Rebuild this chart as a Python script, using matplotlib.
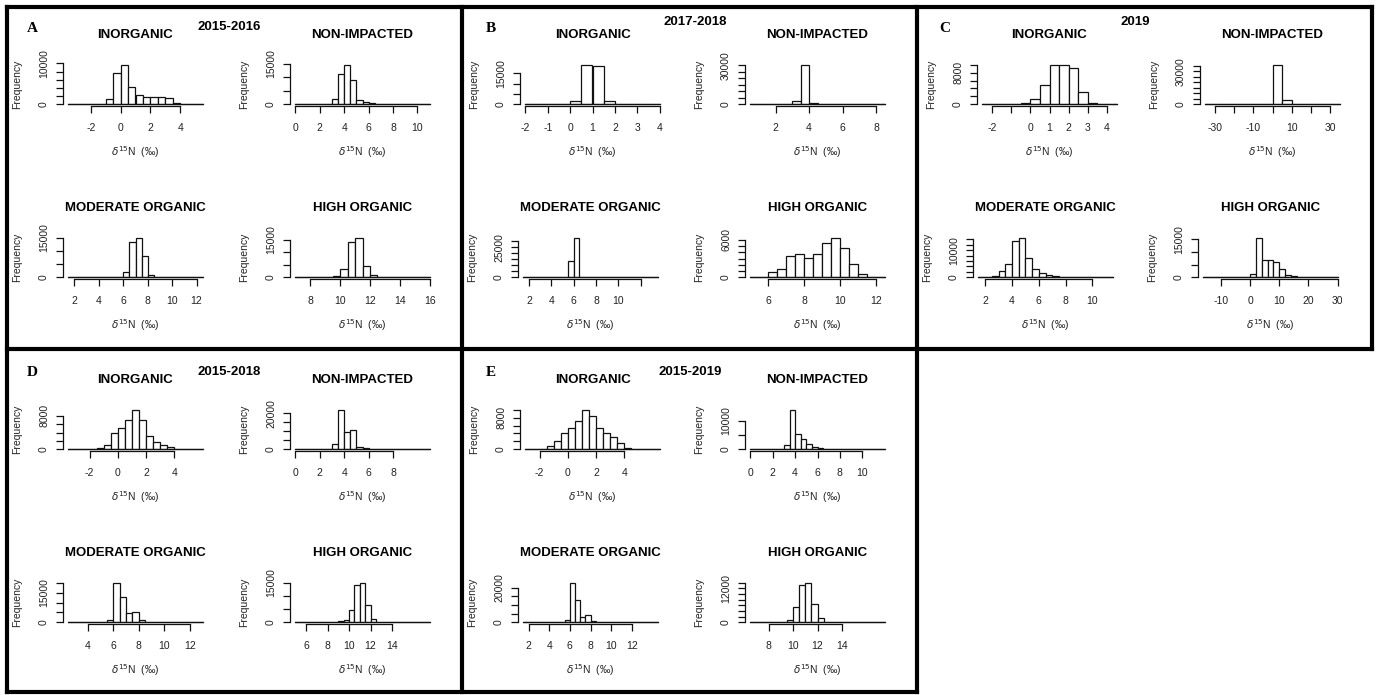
import matplotlib
matplotlib.use("Agg")
import matplotlib.pyplot as plt
from matplotlib.lines import Line2D
import numpy as np

W, H, DPI = 1378, 695, 100

# ------------------------------------------------------------------ data
TITLES = ["INORGANIC", "NON-IMPACTED", "MODERATE ORGANIC", "HIGH ORGANIC"]
PANEL_LETTERS = ["A", "B", "C", "D", "E"]
PANEL_YEARS = ["2015-2016", "2017-2018", "2019", "2015-2018", "2015-2019"]
XLABEL = r"$\delta^{15}$N  (‰)"
YLABEL = "Frequency"

# bins: (first break, bin width); counts: frequency per bin
A_INORGANIC_BINS = (-3.5, 0.5)
A_INORGANIC = [0, 20, 50, 100, 200, 1300, 7640, 9700, 4350, 2300, 1800, 1700, 1800, 1550, 300, 80, 30, 10]
A_NONIMPACTED_BINS = (0.0, 0.5)
A_NONIMPACTED = [0, 0, 10, 20, 30, 100, 2090, 11070, 14700, 8850, 1720, 740, 490, 250, 120, 60, 30, 20, 10, 5, 5, 5]
A_MODERATE_BINS = (1.5, 0.5)
A_MODERATE = [5, 5, 10, 10, 20, 30, 50, 100, 200, 1920, 13460, 15000, 7950, 1000, 250, 80, 30, 20, 10, 5, 5, 5]
A_HIGH_BINS = (7.0, 0.5)
A_HIGH = [5, 10, 30, 100, 250, 680, 3400, 14050, 15950, 4640, 820, 270, 100, 40, 20, 10, 5, 5]

B_INORGANIC_BINS = (-2.0, 0.5)
B_INORGANIC = [10, 20, 60, 300, 1630, 19070, 18260, 1470, 100, 30, 10, 5]
B_NONIMPACTED_BINS = (0.5, 0.5)
B_NONIMPACTED = [5, 5, 10, 20, 200, 2560, 30500, 1000, 400, 100, 50, 20, 10, 5, 5, 5]
B_MODERATE_BINS = (1.5, 0.5)
B_MODERATE = [5, 5, 10, 10, 20, 50, 100, 300, 13600, 33200, 400, 100, 50, 20, 10, 5, 5, 5, 5, 5, 5, 5, 5, 5]
B_HIGH_BINS = (5.0, 0.5)
B_HIGH = [30, 100, 930, 1360, 3440, 3820, 3160, 3820, 5450, 6380, 4750, 2070, 550, 100, 10]

C_INORGANIC_BINS = (-2.5, 0.5)
C_INORGANIC = [5, 10, 30, 100, 340, 1450, 4870, 10000, 9900, 9150, 3080, 250, 80, 20]
C_NONIMPACTED_BINS = (-35.0, 5.0)
C_NONIMPACTED = [5, 5, 10, 20, 50, 200, 600, 36000, 4200, 500, 100, 30, 10, 5]
C_MODERATE_BINS = (1.5, 0.5)
C_MODERATE = [100, 250, 600, 2500, 5000, 13400, 14600, 7100, 3100, 1600, 900, 500, 250, 150, 100, 60, 40, 20, 10, 10]
C_HIGH_BINS = (-16.0, 2.0)
C_HIGH = [5, 5, 5, 10, 20, 40, 80, 270, 1340, 15670, 6700, 6700, 6030, 3350, 940, 540, 270, 130, 60, 30, 20, 10, 5]

D_INORGANIC_BINS = (-3.5, 0.5)
D_INORGANIC = [0, 10, 30, 80, 300, 1000, 3800, 5200, 7000, 9500, 7000, 3300, 1800, 1100, 500, 150, 50, 10, 5]
D_NONIMPACTED_BINS = (0.0, 0.5)
D_NONIMPACTED = [0, 0, 5, 10, 20, 100, 3000, 22000, 9500, 10500, 1500, 800, 500, 300, 150, 80, 40, 20, 10, 5, 5, 5]
D_MODERATE_BINS = (2.5, 0.5)
D_MODERATE = [5, 5, 10, 10, 20, 50, 1000, 20000, 13000, 4500, 5000, 1000, 300, 100, 50, 20, 10, 5, 5, 5, 5]
D_HIGH_BINS = (5.0, 0.5)
D_HIGH = [5, 5, 10, 20, 30, 50, 100, 200, 400, 1000, 4500, 14000, 15000, 6500, 1200, 300, 100, 30, 10,
          5, 5, 5, 5, 5, 5]

E_INORGANIC_BINS = (-3.0, 0.5)
E_INORGANIC = [10, 50, 200, 800, 2000, 4200, 5500, 7200, 10000, 8500, 5500, 4000, 3000, 1500, 400, 100, 20, 10, 5]
E_NONIMPACTED_BINS = (0.0, 0.5)
E_NONIMPACTED = [0, 0, 5, 10, 30, 200, 1500, 14000, 5500, 3500, 2000, 1000, 500, 300, 150, 80, 40, 20, 10,
                 5, 5, 5, 5, 5]
E_MODERATE_BINS = (1.5, 0.5)
E_MODERATE = [5, 5, 10, 20, 50, 100, 200, 300, 1200, 23000, 13000, 3000, 4000, 1000, 300, 100, 50, 20, 10,
              5, 5, 5, 5, 5, 5, 5]
E_HIGH_BINS = (6.5, 0.5)
E_HIGH = [5, 5, 10, 20, 50, 150, 800, 5500, 13000, 14000, 6500, 1500, 300, 100, 30, 10, 5, 5, 5, 5, 5, 5]

# x tick values and their printed labels ('' = tick without label)
A_XTICKS = [[-2, 0, 2, 4], [0, 2, 4, 6, 8, 10], [2, 4, 6, 8, 10, 12], [8, 10, 12, 14, 16]]
A_XTICKLABELS = [["-2", "0", "2", "4"], ["0", "2", "4", "6", "8", "10"],
                 ["2", "4", "6", "8", "10", "12"], ["8", "10", "12", "14", "16"]]
B_XTICKS = [[-2, -1, 0, 1, 2, 3, 4], [2, 4, 6, 8], [2, 4, 6, 8, 10, 12], [6, 8, 10, 12]]
B_XTICKLABELS = [["-2", "-1", "0", "1", "2", "3", "4"], ["2", "4", "6", "8"],
                 ["2", "4", "6", "8", "10", ""], ["6", "8", "10", "12"]]
C_XTICKS = [[-2, -1, 0, 1, 2, 3, 4], [-30, -20, -10, 0, 10, 20, 30], [2, 4, 6, 8, 10], [-10, 0, 10, 20, 30]]
C_XTICKLABELS = [["-2", "", "0", "1", "2", "3", "4"], ["-30", "", "-10", "", "10", "", "30"],
                 ["2", "4", "6", "8", "10"], ["-10", "0", "10", "20", "30"]]
D_XTICKS = [[-2, 0, 2, 4], [0, 2, 4, 6, 8], [4, 6, 8, 10, 12], [6, 8, 10, 12, 14]]
D_XTICKLABELS = [["-2", "0", "2", "4"], ["0", "2", "4", "6", "8"],
                 ["4", "6", "8", "10", "12"], ["6", "8", "10", "12", "14"]]
E_XTICKS = [[-2, 0, 2, 4], [0, 2, 4, 6, 8, 10], [2, 4, 6, 8, 10, 12], [8, 10, 12, 14]]
E_XTICKLABELS = [["-2", "0", "2", "4"], ["0", "2", "4", "6", "8", "10"],
                 ["2", "4", "6", "8", "10", "12"], ["8", "10", "12", "14"]]

# y tick step and the y tick values that carry a label
A_YSTEP = [2000, 5000, 5000, 5000]
A_YLABELED = [[0, 10000], [0, 15000], [0, 15000], [0, 15000]]
B_YSTEP = [5000, 5000, 5000, 1000]
B_YLABELED = [[0, 15000], [0, 30000], [0, 25000], [0, 6000]]
C_YSTEP = [2000, 5000, 2000, 5000]
C_YLABELED = [[0, 8000], [0, 30000], [0, 10000], [0, 15000]]
D_YSTEP = [2000, 5000, 5000, 5000]
D_YLABELED = [[0, 8000], [0, 20000], [0, 15000], [0, 15000]]
E_YSTEP = [2000, 5000, 5000, 2000]
E_YLABELED = [[0, 8000], [0, 10000], [0, 20000], [0, 12000]]

# ------------------------------------------------------------------ layout (pixels)
PLOT_W, PLOT_H = 145, 43
PANEL_AXES_PX = {
    "A": [(63, 63), (290, 63), (63, 236), (290, 236)],
    "B": [(520, 63), (745, 63), (518, 236), (745, 236)],
    "C": [(977, 63), (1200, 63), (973, 236), (1198, 236)],
    "D": [(63, 408), (290, 408), (63, 581), (290, 581)],
    "E": [(520, 408), (745, 408), (518, 581), (745, 581)],
}
LETTER_PX = {"A": (32, 28), "B": (491, 28), "C": (945, 28), "D": (32, 372), "E": (491, 372)}
YEAR_PX = {"A": (229, 27), "B": (695, 22), "C": (1135, 22), "D": (229, 372), "E": (690, 372)}

SANS = "Liberation Sans"
SERIF = "Liberation Serif"

fig = plt.figure(figsize=(W / DPI, H / DPI), dpi=DPI)
fig.patch.set_facecolor("white")


def fx(x):
    return x / W


def fy(y):
    return 1 - y / H


def draw_hist(left, top, counts, bins, xticks, xticklabels, ystep, ylabeled, title):
    ax = fig.add_axes([fx(left), fy(top + PLOT_H), PLOT_W / W, PLOT_H / H])
    start, width = bins
    n = len(counts)
    edges = start + width * np.arange(n + 1)
    ax.bar(edges[:-1], counts, width=width, align="edge", facecolor="white",
           edgecolor="#111111", linewidth=0.9, clip_on=False)
    ax.plot([edges[0], edges[-1]], [0, 0], color="#111111", lw=0.9, clip_on=False)
    d = edges[-1] - edges[0]
    ax.set_xlim(edges[0] - 0.04 * d, edges[-1] + 0.04 * d)
    ymax = max(counts)
    ax.set_ylim(-0.04 * ymax, 1.04 * ymax)
    yt = np.arange(0, 1.04 * ymax + 1e-9, ystep)
    ax.set_yticks(yt)
    ax.set_yticklabels([("%d" % v if int(v) in ylabeled else "") for v in yt],
                       rotation=90, va="center", fontsize=7.5, family=SANS, color="#222222")
    ax.set_xticks(xticks)
    ax.set_xticklabels(xticklabels, fontsize=7.5, family=SANS, color="#222222")
    for s in ("top", "right"):
        ax.spines[s].set_visible(False)
    ax.spines["bottom"].set_bounds(xticks[0], xticks[-1])
    ax.spines["left"].set_bounds(0, yt[-1])
    for s in ("bottom", "left"):
        ax.spines[s].set_linewidth(0.9)
        ax.spines[s].set_color("#111111")
    ax.tick_params(axis="x", direction="out", length=5, width=0.9, pad=7, color="#111111")
    ax.tick_params(axis="y", direction="out", length=5, width=0.9, pad=5, color="#111111")
    ax.patch.set_alpha(0)
    cx = left + PLOT_W / 2
    fig.text(fx(cx), fy(top - 28), title, ha="center", va="center",
             fontsize=9.5, fontweight="bold", family=SANS)
    fig.text(fx(left - 46), fy(top + PLOT_H / 2), YLABEL, rotation=90, ha="center", va="center",
             fontsize=7.5, family=SANS, color="#222222")
    fig.text(fx(cx), fy(top + PLOT_H + 46), XLABEL, ha="center", va="center",
             fontsize=7.5, family=SANS, color="#222222")


PANELS = {
    "A": ([A_INORGANIC, A_NONIMPACTED, A_MODERATE, A_HIGH],
          [A_INORGANIC_BINS, A_NONIMPACTED_BINS, A_MODERATE_BINS, A_HIGH_BINS],
          A_XTICKS, A_XTICKLABELS, A_YSTEP, A_YLABELED),
    "B": ([B_INORGANIC, B_NONIMPACTED, B_MODERATE, B_HIGH],
          [B_INORGANIC_BINS, B_NONIMPACTED_BINS, B_MODERATE_BINS, B_HIGH_BINS],
          B_XTICKS, B_XTICKLABELS, B_YSTEP, B_YLABELED),
    "C": ([C_INORGANIC, C_NONIMPACTED, C_MODERATE, C_HIGH],
          [C_INORGANIC_BINS, C_NONIMPACTED_BINS, C_MODERATE_BINS, C_HIGH_BINS],
          C_XTICKS, C_XTICKLABELS, C_YSTEP, C_YLABELED),
    "D": ([D_INORGANIC, D_NONIMPACTED, D_MODERATE, D_HIGH],
          [D_INORGANIC_BINS, D_NONIMPACTED_BINS, D_MODERATE_BINS, D_HIGH_BINS],
          D_XTICKS, D_XTICKLABELS, D_YSTEP, D_YLABELED),
    "E": ([E_INORGANIC, E_NONIMPACTED, E_MODERATE, E_HIGH],
          [E_INORGANIC_BINS, E_NONIMPACTED_BINS, E_MODERATE_BINS, E_HIGH_BINS],
          E_XTICKS, E_XTICKLABELS, E_YSTEP, E_YLABELED),
}

for letter, year in zip(PANEL_LETTERS, PANEL_YEARS):
    counts_l, bins_l, xt_l, xtl_l, ys_l, yl_l = PANELS[letter]
    for i in range(4):
        left, top = PANEL_AXES_PX[letter][i]
        draw_hist(left, top, counts_l[i], bins_l[i], xt_l[i], xtl_l[i], ys_l[i], yl_l[i], TITLES[i])
    lx, ly = LETTER_PX[letter]
    fig.text(fx(lx), fy(ly), letter, ha="center", va="center", fontsize=11,
             fontweight="bold", family=SERIF)
    yx, yy = YEAR_PX[letter]
    fig.text(fx(yx), fy(yy), year, ha="center", va="center", fontsize=9.5,
             fontweight="bold", family=SANS)

# panel borders
BORDER_LW = 3.0


def hline(y, x0, x1):
    fig.add_artist(Line2D([fx(x0), fx(x1)], [fy(y), fy(y)], color="black", lw=BORDER_LW,
                          transform=fig.transFigure, solid_capstyle="projecting"))


def vline(x, y0, y1):
    fig.add_artist(Line2D([fx(x), fx(x)], [fy(y0), fy(y1)], color="black", lw=BORDER_LW,
                          transform=fig.transFigure, solid_capstyle="projecting"))


hline(6.5, 6.5, 1371.5)
hline(348.5, 6.5, 1371.5)
hline(692, 6.5, 917)
vline(6.5, 6.5, 692)
vline(462, 6.5, 692)
vline(917, 6.5, 692)
vline(1371.5, 6.5, 348.5)

fig.savefig("out.png", dpi=DPI, facecolor="white")
